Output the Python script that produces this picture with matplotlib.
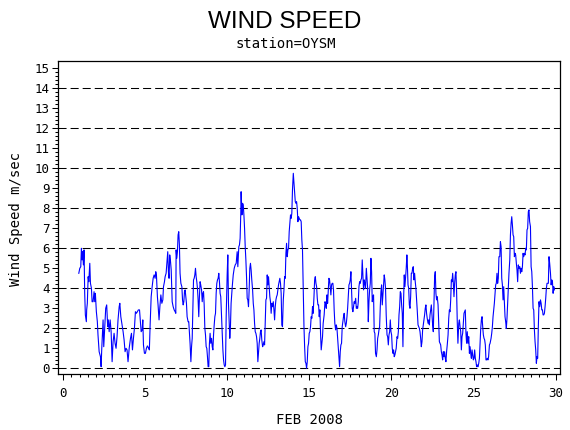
import matplotlib
matplotlib.use("Agg")
import matplotlib.pyplot as plt
import numpy as np

plt.rcParams['lines.scale_dashes'] = False

# ---- data (day of Feb 2008, wind speed m/s) ----
days_a = [0.95,1.01,1.07,1.11,1.15,1.19,1.23,1.27,1.31,1.35,1.41,1.43,1.47,1.52,1.56,1.62,1.66,1.72,1.76,1.82,
          1.88,1.92,1.96,2.02,2.08,2.12,2.19,2.27,2.31,2.35,2.39,2.43,2.47,2.53,2.59,2.65,2.71,2.75,2.80,2.86,
          2.92,2.98,3.04,3.10,3.16,3.22,3.28,3.34,3.41,3.45,3.51,3.57,3.65,3.71,3.77,3.83,3.89,3.95,4.02,4.10,
          4.16,4.22,4.28,4.34,4.40,4.46,4.52,4.58,4.65,4.71,4.75,4.81,4.85,4.89,4.95,5.01,5.07,5.13,5.21]
speed_a = [4.75,5.0,5.08,6.0,5.42,5.83,5.17,5.92,3.75,2.67,2.33,2.92,3.25,4.58,4.33,5.25,4.25,4.0,3.33,3.33,
           3.83,3.33,3.75,2.83,2.33,1.67,0.83,0.58,0.08,1.0,1.75,2.42,1.08,2.08,3.0,3.17,2.08,2.42,1.83,2.42,
           1.83,0.33,1.33,1.75,1.25,1.0,1.58,2.42,3.08,3.25,2.58,2.25,1.83,1.42,0.83,1.0,0.92,0.33,1.0,1.5,
           1.75,0.92,1.5,2.0,2.83,2.75,2.83,2.92,2.92,2.25,1.83,1.92,2.42,1.17,0.75,0.75,1.0,1.12,1.0]

days_b = [5.25,5.30,5.36,5.42,5.48,5.54,5.60,5.64,5.68,5.74,5.78,5.84,5.89,5.95,6.01,6.07,6.11,6.17,6.21,6.27,
          6.31,6.37,6.41,6.45,6.49,6.54,6.58,6.64,6.70,6.76,6.82,6.86,6.88,6.92,6.96,7.00,7.04,7.08,7.12,7.17,
          7.23,7.27,7.31,7.35,7.39,7.43,7.47,7.51,7.55,7.61,7.65,7.69,7.73,7.78,7.82,7.86,7.90,7.94,7.98,8.02,
          8.06,8.10,8.14,8.18,8.22,8.26,8.30,8.34,8.38,8.43,8.47,8.51,8.55,8.59,8.63,8.67,8.71,8.75,8.79,8.83,
          8.87,8.91,8.95,8.99,9.04,9.08,9.12,9.16,9.20,9.24,9.28,9.32,9.36,9.40,9.44,9.48,9.52,9.56,9.60,9.65,
          9.69,9.73,9.77,9.81,9.85]
speed_b = [0.92,2.25,3.58,4.08,4.5,4.67,4.5,4.83,4.67,3.58,3.17,2.42,3.08,3.67,3.25,3.42,4.08,4.33,4.58,4.75,
           5.17,5.83,4.83,4.5,5.67,5.33,4.92,3.33,3.08,2.92,2.83,2.75,5.92,5.5,5.83,6.67,6.83,6.17,4.75,4.25,
           4.08,3.42,3.17,3.33,3.83,3.92,3.58,3.25,2.58,2.33,2.33,1.75,1.25,0.33,1.08,1.5,3.08,4.42,4.5,4.67,
           5.0,4.58,4.33,4.0,3.42,2.58,3.58,4.33,4.17,3.92,3.33,3.75,3.83,3.17,2.0,1.67,1.08,1.0,0.58,0.08,
           0.08,1.25,1.75,1.25,1.5,1.08,0.92,1.67,2.17,2.58,2.75,3.75,4.25,4.42,4.5,4.75,4.33,3.75,3.58,2.58,
           1.75,0.92,0.42,0.17,0.08]

days_c = [9.89,9.93,9.99,10.03,10.07,10.11,10.15,10.19,10.23,10.30,10.36,10.42,10.48,10.54,10.60,10.64,10.70,10.74,10.78,10.82,
          10.84,10.89,10.93,10.97,11.01,11.05,11.09,11.13,11.17,11.21,11.25,11.29,11.33,11.37,11.41,11.45,11.49,11.54,11.58,11.62,
          11.66,11.70,11.74,11.78,11.82,11.86,11.90,11.94,11.98,12.02,12.06,12.10,12.15,12.19,12.23,12.27,12.31,12.35,12.39,12.43,
          12.47,12.51,12.55,12.59,12.63,12.67,12.71,12.75,12.80,12.84,12.88,12.92,12.96,13.00,13.04,13.08,13.12,13.16,13.20,13.24,
          13.28,13.32,13.36,13.41,13.45,13.49,13.53,13.57,13.61,13.65,13.69,13.73,13.77,13.81,13.85,13.89,13.93,13.97,14.02,14.06,
          14.10,14.14,14.18,14.22,14.26,14.30,14.34,14.38,14.42,14.46,14.50,14.54,14.58,14.62,14.67,14.71,14.75,14.79,14.83,14.87,
          14.91,14.95,14.99,15.03,15.07,15.11,15.15,15.19,15.23,15.28,15.32,15.36,15.40,15.44,15.48,15.52,15.56,15.60,15.64]
speed_c = [0.17,2.58,4.67,5.67,3.25,2.42,1.5,2.08,3.25,4.08,4.67,5.0,5.17,5.25,5.83,5.08,6.08,6.17,6.5,7.75,
           8.83,7.67,8.25,8.17,7.67,7.0,6.08,5.42,4.58,3.5,3.42,3.08,3.92,5.0,5.25,4.92,4.42,3.92,3.25,2.92,
           2.25,1.83,1.75,1.58,1.25,0.33,0.83,1.25,1.5,1.83,1.92,1.42,1.08,1.17,1.33,1.17,2.33,3.42,3.5,4.67,
           4.17,4.58,4.08,3.58,3.33,2.75,3.25,3.08,3.33,2.92,2.42,3.08,3.42,3.58,3.67,3.92,4.17,4.33,4.5,4.25,
           3.75,2.17,2.08,3.42,3.92,4.58,4.5,5.75,6.25,5.58,5.92,6.0,6.83,7.25,7.67,7.5,7.75,8.92,9.75,9.25,
           8.75,8.33,8.25,8.33,8.0,7.33,7.58,7.5,7.42,7.42,7.33,6.42,5.92,4.25,2.08,1.08,0.33,0.25,0.0,0.33,
           1.08,1.25,1.75,1.83,2.08,2.58,2.5,3.08,2.75,3.58,4.42,4.58,4.25,4.08,3.5,3.17,3.17,2.58,2.92]

days_d = [15.68,15.72,15.76,15.80,15.84,15.90,15.95,15.99,16.03,16.07,16.11,16.15,16.19,16.23,16.27,16.31,16.35,16.39,16.43,16.47,
          16.51,16.55,16.60,16.64,16.68,16.72,16.76,16.80,16.84,16.88,16.92,16.96,17.00,17.04,17.08,17.12,17.16,17.21,17.25,17.29,
          17.33,17.37,17.41,17.45,17.49,17.53,17.57,17.61,17.65,17.69,17.73,17.77,17.82,17.86,17.90,17.94,17.98,18.02,18.06,18.10,
          18.14,18.18,18.22,18.26,18.30,18.34,18.38,18.42,18.47,18.51,18.55,18.59,18.63,18.67,18.71,18.75,18.79,18.83,18.87,18.91,
          18.95,18.99,19.03,19.08,19.12,19.16,19.20,19.24,19.28,19.32,19.36,19.40,19.44,19.48,19.52,19.56,19.60,19.64,19.68,19.73,
          19.77,19.81,19.85,19.89,19.93,19.97,20.01,20.05,20.09,20.13,20.17,20.21,20.25,20.29,20.34,20.38,20.42,20.46,20.50,20.54,
          20.58,20.62,20.66,20.70,20.74,20.78,20.82]
speed_d = [1.75,0.92,1.25,1.58,2.25,2.67,3.33,3.25,3.0,3.67,3.25,3.92,4.5,4.42,4.08,3.67,4.17,4.25,4.25,3.92,
           2.92,2.25,1.92,2.17,2.0,1.5,0.92,0.5,0.08,0.83,1.17,1.25,2.08,2.33,2.58,2.75,2.33,2.08,2.25,2.58,
           3.0,3.58,4.17,4.25,4.42,4.83,3.92,3.0,2.83,3.08,3.33,3.25,3.5,3.0,3.08,3.0,3.33,4.08,4.33,4.25,
           4.42,4.5,5.42,4.67,3.92,4.42,4.25,4.0,5.0,4.5,4.0,2.33,3.33,3.92,4.25,5.5,4.83,3.33,3.58,3.67,
           1.83,1.75,0.75,0.58,0.92,1.5,1.67,1.92,2.08,3.08,3.83,4.17,3.17,3.67,4.25,4.67,4.42,4.0,2.67,1.67,
           1.58,1.17,1.67,1.83,2.42,1.83,1.67,1.0,0.75,0.92,0.58,0.67,0.83,1.0,1.58,1.5,1.83,2.67,3.08,3.83,
           3.75,3.17,2.75,1.08,3.42,4.67,4.08]

days_e = [20.86,20.90,20.94,20.97,21.01,21.05,21.09,21.13,21.17,21.21,21.25,21.29,21.33,21.37,21.41,21.45,21.49,21.53,21.57,21.62,
          21.66,21.70,21.74,21.78,21.82,21.86,21.90,21.94,21.98,22.02,22.06,22.10,22.14,22.18,22.23,22.27,22.31,22.35,22.39,22.43,
          22.47,22.51,22.55,22.59,22.63,22.67,22.71,22.75,22.79,22.84,22.88,22.92,22.96,23.00,23.04,23.08,23.12,23.16,23.20,23.24,
          23.28,23.32,23.36,23.40,23.45,23.49,23.53,23.57,23.61,23.65,23.69,23.73,23.77,23.81,23.85,23.89,23.93,23.97,24.01,24.05,
          24.10,24.14,24.18,24.22,24.26,24.30,24.34,24.38,24.42,24.46,24.50,24.54,24.58,24.62,24.66,24.71,24.75,24.79,24.83,24.87,
          24.91,24.95,24.99,25.03,25.07,25.11,25.15,25.19,25.23,25.27,25.32,25.36,25.40,25.44,25.48,25.52,25.56,25.60,25.64,25.68,
          25.72,25.76,25.80,25.84,25.88,25.92,25.97,26.01]
speed_e = [4.58,5.0,5.67,5.17,4.17,4.0,3.17,3.0,3.58,4.75,4.75,5.0,5.08,4.42,4.75,4.33,4.0,3.5,2.92,2.17,
           2.08,2.0,1.83,1.5,1.08,1.33,1.92,2.17,2.42,2.67,3.0,3.17,2.75,2.5,2.25,2.42,2.17,2.67,2.92,3.17,
           2.67,2.17,1.83,3.33,4.58,4.83,3.75,3.42,3.58,3.17,2.17,1.33,1.25,1.17,0.83,0.67,0.42,0.83,0.58,0.83,
           0.5,0.33,0.83,1.17,1.67,2.5,2.92,2.83,3.42,4.42,4.33,4.75,4.25,3.58,4.25,4.67,4.83,3.83,2.33,1.25,
           2.25,2.42,2.08,1.83,0.92,1.58,1.75,2.25,2.75,2.83,2.92,1.75,1.25,1.83,1.25,1.58,0.75,1.08,0.75,0.5,
           0.92,0.67,0.42,0.5,0.92,0.5,0.33,0.08,0.17,0.08,0.25,0.5,1.25,2.0,2.42,2.58,2.08,1.67,1.5,1.42,
           1.17,0.42,0.42,0.5,0.42,0.58,1.17,1.25]

days_f = [26.07,26.11,26.15,26.19,26.23,26.27,26.31,26.35,26.39,26.43,26.47,26.51,26.55,26.60,26.64,26.68,26.72,26.76,26.80,26.84,
          26.88,26.92,26.96,27.00,27.04,27.08,27.12,27.16,27.21,27.25,27.29,27.33,27.37,27.41,27.45,27.49,27.53,27.57,27.61,27.65,
          27.69,27.73,27.77,27.82,27.86,27.90,27.94,27.98,28.02,28.06,28.10,28.14,28.18,28.22,28.26,28.30,28.34,28.38,28.42,28.47,
          28.51,28.55,28.59,28.63,28.67,28.71,28.75,28.79,28.83,28.87,28.91,28.95,28.99,29.03,29.08,29.12,29.16,29.20,29.24,29.28,
          29.32,29.36,29.40,29.44,29.48,29.52,29.56,29.60,29.64,29.69,29.73,29.77,29.81,29.85,29.89,29.93]
speed_f = [1.5,1.75,2.08,2.58,2.92,3.25,3.75,4.17,4.25,4.75,4.25,4.5,5.58,5.58,6.33,6.08,4.5,4.17,3.42,4.08,
           3.33,2.58,2.33,2.0,2.5,3.25,4.08,4.75,5.42,6.67,7.25,7.58,7.17,6.67,6.58,5.58,5.75,5.67,5.25,4.92,
           4.33,5.17,5.0,5.08,4.75,5.0,4.83,5.08,5.75,5.58,5.75,5.67,6.0,5.92,6.92,7.0,7.83,7.92,7.33,7.08,
           5.08,4.83,4.08,3.0,2.92,1.92,1.33,0.92,0.25,0.58,0.5,2.08,3.33,3.08,3.42,3.25,2.92,2.92,2.67,2.67,
           2.75,3.08,3.5,4.0,4.25,4.25,4.25,5.58,5.25,4.75,4.17,4.42,4.33,3.75,4.08,3.92]

x_ticks = [0, 5, 10, 15, 20, 25, 30]
y_ticks = list(range(0, 16))
ref_lines = [0, 2, 4, 6, 8, 10, 12, 14]

title = "WIND SPEED"
subtitle = "station=OYSM"
x_label = "FEB 2008"
y_label = "Wind Speed m/sec"

# ---- assemble ----
days, speed = [], []
for d, s in [(days_a, speed_a), (days_b, speed_b), (days_c, speed_c),
             (days_d, speed_d), (days_e, speed_e), (days_f, speed_f)]:
    n = min(len(d), len(s))
    days += d[:n]
    speed += s[:n]

W, H = 570, 430
fig = plt.figure(figsize=(W / 100, H / 100), dpi=100)
ax = fig.add_axes([58 / W, 1 - 374 / H, (560 - 58) / W, (374 - 61) / H])
ax.set_xlim(-0.317, 30.27)
ax.set_ylim(-0.285, 15.365)

for y in ref_lines:
    ax.axhline(y, color='black', lw=0.75, linestyle=(0, (5.8, 2.9)), zorder=1)

ax.plot(days, speed, color='#0000ff', lw=0.8, zorder=2)

mono = 'DejaVu Sans Mono'
ax.set_xticks(x_ticks)
ax.set_xticks(np.arange(0, 30.01, 0.5), minor=True)
ax.set_yticks(y_ticks)
ax.set_yticks(np.arange(0, 15.01, 0.2), minor=True)
ax.set_xticklabels([str(t) for t in x_ticks], fontfamily=mono, fontsize=9)
ax.set_yticklabels([str(t) for t in y_ticks], fontfamily=mono, fontsize=9)
ax.tick_params(axis='both', which='major', direction='out', length=4.6, width=0.75, color='black')
ax.tick_params(axis='both', which='minor', direction='out', length=2.2, width=0.75, color='black')
ax.tick_params(axis='x', which='major', pad=5)
ax.tick_params(axis='y', which='major', pad=1.5)
for sp in ax.spines.values():
    sp.set_linewidth(0.9)
    sp.set_color('black')

fig.text(0.5, 1 - 28 / H, title, ha='center', va='baseline',
         fontfamily='Liberation Sans', fontsize=17.5)
fig.text(286 / W, 1 - 48.5 / H, subtitle, ha='center', va='baseline',
         fontfamily=mono, fontsize=10)
fig.text(309.5 / W, 1 - 423.5 / H, x_label, ha='center', va='baseline',
         fontfamily=mono, fontsize=10)
fig.text(16 / W, 1 - 219 / H, y_label, ha='center', va='center', rotation=90,
         fontfamily=mono, fontsize=10)

fig.savefig('out.png', dpi=100, facecolor='white')
